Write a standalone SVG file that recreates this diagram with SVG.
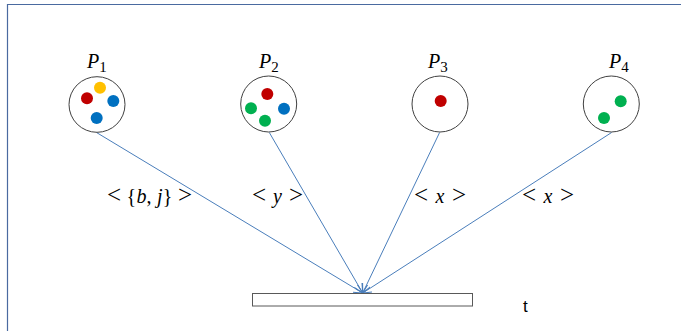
<svg xmlns="http://www.w3.org/2000/svg" width="681" height="331" viewBox="0 0 681 331">
<defs>
<marker id="arr" viewBox="0 0 10 10" refX="10" refY="5" markerWidth="9" markerHeight="9" markerUnits="userSpaceOnUse" orient="auto">
<path d="M0,0 L10,5 L0,10" fill="none" stroke="#4a7ebb" stroke-width="1.3"/>
</marker>
<style>
.frame{fill:none;stroke:#4a6aa0;stroke-width:1.2}
.place{fill:#fff;stroke:#404040;stroke-width:1}
.red{fill:#c00000}.yel{fill:#ffc000}.blu{fill:#0070c0}.grn{fill:#00b050}
.lbl{font-family:"Liberation Serif",serif;font-size:20px;fill:#000}
.it{font-style:italic}
.op{font-size:25px}
.sub{font-family:"Liberation Serif",serif;font-size:15px}
.edge{fill:none;stroke:#4a7ebb;stroke-width:1;marker-end:url(#arr)}
.elbl{font-family:"Liberation Serif",serif;font-size:20px;fill:#000}
.trans{fill:#fff;stroke:#595959;stroke-width:1}
.t{font-family:"Liberation Sans",sans-serif;font-size:17px;fill:#000}
</style>
</defs>
<rect width="681" height="331" fill="#fff"/>
<path class="frame" d="M7.5,331 V4.5 H681"/>
<g id="connectors">
<line class="edge" x1="96.5" y1="132.5" x2="362.7" y2="293"/>
<line class="edge" x1="269.3" y1="132.5" x2="362.7" y2="293"/>
<line class="edge" x1="439.6" y1="132.5" x2="362.7" y2="293"/>
<line class="edge" x1="611.6" y1="132.5" x2="362.7" y2="293"/>
<text class="elbl" x="107" y="203" textLength="85" lengthAdjust="spacing"><tspan class="op">&lt;</tspan> {<tspan class="it">b</tspan>, <tspan class="it">j</tspan>} <tspan class="op">&gt;</tspan></text>
<text class="elbl" x="252" y="203" textLength="51" lengthAdjust="spacing"><tspan class="op">&lt;</tspan> <tspan class="it">y</tspan> <tspan class="op">&gt;</tspan></text>
<text class="elbl" x="414" y="203" textLength="52" lengthAdjust="spacing"><tspan class="op">&lt;</tspan> <tspan class="it">x</tspan> <tspan class="op">&gt;</tspan></text>
<text class="elbl" x="522" y="203" textLength="52" lengthAdjust="spacing"><tspan class="op">&lt;</tspan> <tspan class="it">x</tspan> <tspan class="op">&gt;</tspan></text>
</g>
<g id="P1">
<text class="lbl" x="87" y="68"><tspan class="it">P</tspan><tspan class="sub" dy="4">1</tspan></text>
<ellipse class="place" cx="97" cy="104.5" rx="28" ry="27.8"/>
<circle class="yel" cx="100" cy="87.7" r="6"/>
<circle class="red" cx="87" cy="98.3" r="6"/>
<circle class="blu" cx="113.3" cy="101" r="6"/>
<circle class="blu" cx="96.7" cy="118" r="6"/>
</g>
<g id="P2">
<text class="lbl" x="259" y="68"><tspan class="it">P</tspan><tspan class="sub" dy="4">2</tspan></text>
<ellipse class="place" cx="268.7" cy="104" rx="28" ry="28"/>
<circle class="red" cx="267.3" cy="94" r="6"/>
<circle class="grn" cx="251" cy="108.3" r="6"/>
<circle class="blu" cx="284" cy="108.7" r="6"/>
<circle class="grn" cx="265" cy="120.7" r="6"/>
</g>
<g id="P3">
<text class="lbl" x="428" y="68"><tspan class="it">P</tspan><tspan class="sub" dy="4">3</tspan></text>
<ellipse class="place" cx="440" cy="104" rx="28" ry="28"/>
<circle class="red" cx="440.7" cy="101" r="6"/>
</g>
<g id="P4">
<text class="lbl" x="609" y="68"><tspan class="it">P</tspan><tspan class="sub" dy="4">4</tspan></text>
<ellipse class="place" cx="611.3" cy="104" rx="28" ry="28"/>
<circle class="grn" cx="620.7" cy="101.3" r="6"/>
<circle class="grn" cx="604" cy="118" r="6"/>
</g>
<g id="t">
<rect class="trans" x="252.5" y="293.5" width="220" height="12.5"/>
<text class="t" x="523" y="311.5">t</text>
</g>
</svg>
